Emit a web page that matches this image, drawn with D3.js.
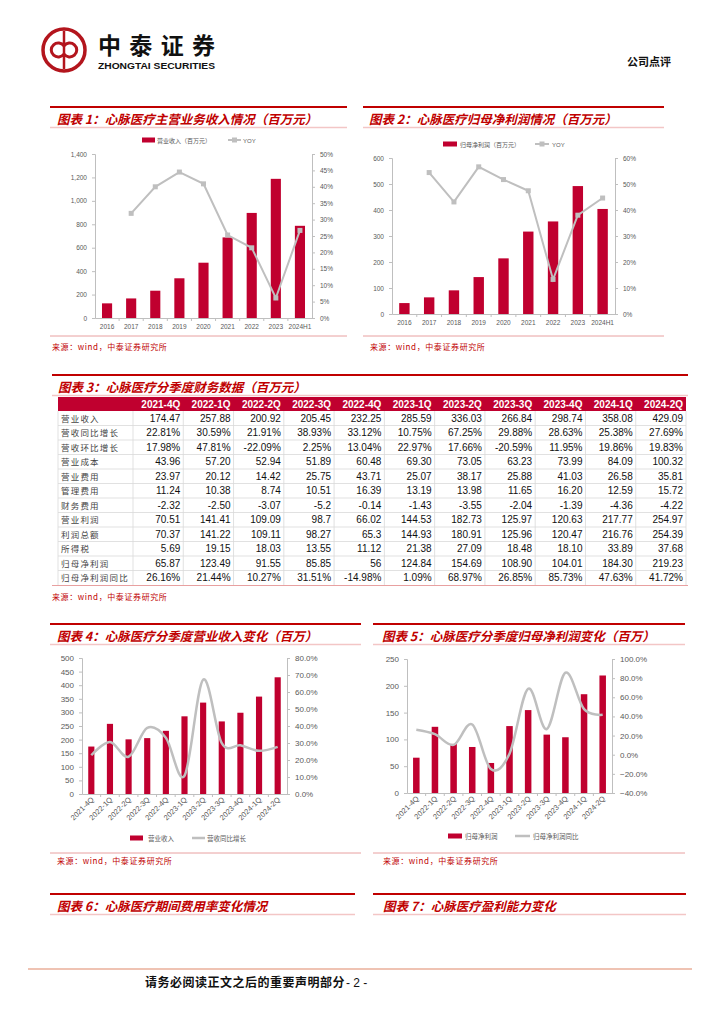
<!DOCTYPE html>
<html><head><meta charset="utf-8">
<script src="https://cdn.jsdelivr.net/npm/d3@7"></script>
<style>body{margin:0;background:#fff}svg{display:block}</style>
</head><body><svg id="c" width="724" height="1024"></svg>
<script>
// ---------- DATA ----------
const years = ['2016','2017','2018','2019','2020','2021','2022','2023','2024H1'];
const revenueAnnual = [125,167,233,339,472,688,897,1188,787];
const revenueYoy = [null,31.9,40.0,44.5,40.9,25.3,21.4,6.1,26.7];
const profitAnnual = [42,64,91,142,214,317,356,492,404];
const profitYoy = [null,54.4,43.1,56.6,51.7,47.4,13.3,38.0,44.6];

const quarters = ['2021-4Q','2022-1Q','2022-2Q','2022-3Q','2022-4Q','2023-1Q','2023-2Q','2023-3Q','2023-4Q','2024-1Q','2024-2Q'];
const rowLabels = ['营业收入','营收同比增长','营收环比增长','营业成本','营业费用','管理费用','财务费用','营业利润','利润总额','所得税','归母净利润','归母净利润同比'];
const rowRevenue = ['174.47','257.88','200.92','205.45','232.25','285.59','336.03','266.84','298.74','358.08','429.09'];
const rowRevenueYoy = ['22.81%','30.59%','21.91%','38.93%','33.12%','10.75%','67.25%','29.88%','28.63%','25.38%','27.69%'];
const rowRevenueQoq = ['17.98%','47.81%','-22.09%','2.25%','13.04%','22.97%','17.66%','-20.59%','11.95%','19.86%','19.83%'];
const rowCost = ['43.96','57.20','52.94','51.89','60.48','69.30','73.05','63.23','73.99','84.09','100.32'];
const rowSelling = ['23.97','20.12','14.42','25.75','43.71','25.07','38.17','25.88','41.03','26.58','35.81'];
const rowAdmin = ['11.24','10.38','8.74','10.51','16.39','13.19','13.98','11.65','16.20','12.59','15.72'];
const rowFinance = ['-2.32','-2.50','-3.07','-5.2','-0.14','-1.43','-3.55','-2.04','-1.39','-4.36','-4.22'];
const rowOpProfit = ['70.51','141.41','109.09','98.7','66.02','144.53','182.73','125.97','120.63','217.77','254.97'];
const rowTotalProfit = ['70.37','141.22','109.11','98.27','65.3','144.93','180.91','125.96','120.47','216.76','254.39'];
const rowTax = ['5.69','19.15','18.03','13.55','11.12','21.38','27.09','18.48','18.10','33.89','37.68'];
const rowNetProfit = ['65.87','123.49','91.55','85.85','56','124.84','154.69','108.90','104.01','184.30','219.23'];
const rowNetProfitYoy = ['26.16%','21.44%','10.27%','31.51%','-14.98%','1.09%','68.97%','26.85%','85.73%','47.63%','41.72%'];
const tableRows = [rowRevenue,rowRevenueYoy,rowRevenueQoq,rowCost,rowSelling,rowAdmin,rowFinance,rowOpProfit,rowTotalProfit,rowTax,rowNetProfit,rowNetProfitYoy];

const quarterRevenue = rowRevenue.map(parseFloat);
const quarterRevenueYoy = rowRevenueYoy.map(parseFloat);
const quarterProfit = rowNetProfit.map(parseFloat);
const quarterProfitYoy = rowNetProfitYoy.map(parseFloat);

const ticks1L = [0,200,400,600,800,1000,1200,1400];
const ticks1R = [0,5,10,15,20,25,30,35,40,45,50];
const ticks2L = [0,100,200,300,400,500,600];
const ticks2R = [0,10,20,30,40,50,60];
const ticks4L = [0,50,100,150,200,250,300,350,400,450,500];
const ticks4R = [0,10,20,30,40,50,60,70,80];
const ticks5L = [0,50,100,150,200,250];
const ticks5R = [-40,-20,0,20,40,60,80,100];

// ---------- STYLE ----------
const svg = d3.select('#c');
const RED = '#c00000', BAR = '#c0002f', GREY = '#bfbfbf', TXT = '#595959', AX = '#bfbfbf';
const SANS = '"Liberation Sans", Arial, sans-serif';
const CJK = '"Noto Sans CJK SC", sans-serif';
const SOURCE = '来源：wind，中泰证券研究所';

svg.append('rect').attr('width',724).attr('height',1024).attr('fill','#fff');

// ---------- HEADER ----------
const logo = svg.append('g').attr('fill','none').attr('stroke','#b3151d');
logo.append('circle').attr('cx',64).attr('cy',50).attr('r',21).attr('stroke-width',3.5);
logo.append('line').attr('x1',64).attr('x2',64).attr('y1',31).attr('y2',69).attr('stroke-width',2.5);
logo.append('path').attr('d','M64,46 A7,7 0 1 0 64,54').attr('stroke-width',3);
logo.append('path').attr('d','M64,46 A7,7 0 1 1 64,54').attr('stroke-width',3);
svg.append('text').attr('x',98).attr('y',54).text('中泰证券').attr('font-family',CJK).attr('font-weight','bold')
  .attr('font-size',23).attr('textLength',117).attr('lengthAdjust','spacing').attr('fill','#111');
svg.append('text').attr('x',98).attr('y',69).text('ZHONGTAI SECURITIES').attr('font-family',SANS).attr('font-weight','bold')
  .attr('font-size',8.5).attr('textLength',117).attr('lengthAdjust','spacingAndGlyphs').attr('fill','#111');
svg.append('text').attr('x',627).attr('y',66).text('公司点评').attr('font-family',CJK).attr('font-weight','bold')
  .attr('font-size',11).attr('fill','#111');

// ---------- HELPERS ----------
function sectionTitle(x1,x2,y,txt,tx){
  svg.append('line').attr('x1',x1).attr('x2',x2).attr('y1',y).attr('y2',y).attr('stroke',RED).attr('stroke-width',2);
  svg.append('text').attr('x',tx).attr('y',y+16.5).text(txt).attr('fill',RED).attr('font-family',CJK)
    .attr('font-weight','bold').attr('font-style','italic').attr('font-size',12.5);
  svg.append('line').attr('x1',x1).attr('x2',x2).attr('y1',y+20.5).attr('y2',y+20.5).attr('stroke','#f3c6c6').attr('stroke-width',1.5);
}
function sourceNote(x1,x2,ly,tx,ty){
  if (ly!=null) svg.append('line').attr('x1',x1).attr('x2',x2).attr('y1',ly).attr('y2',ly).attr('stroke','#e8a0a0').attr('stroke-width',1);
  svg.append('text').attr('x',tx).attr('y',ty).text(SOURCE).attr('fill',RED).attr('font-family',CJK)
    .attr('font-size',8).attr('letter-spacing',0.6);
}
function styleAxis(g,fs){
  g.select('.domain').attr('stroke',AX);
  g.selectAll('.tick line').attr('stroke',AX);
  g.selectAll('.tick text').attr('fill',TXT).attr('font-family',SANS).attr('font-size',fs);
}

function combo(o){
  const g = svg.append('g');
  const xb = d3.scaleBand().domain(o.cats).range([o.x0,o.x1]).padding(0);
  const bw = xb.bandwidth();
  const yL = d3.scaleLinear().domain(o.leftDomain).range([o.y1,o.y0]);
  const yR = d3.scaleLinear().domain(o.rightDomain).range([o.y1,o.y0]);
  g.append('g').selectAll('rect').data(o.cats.map((c,i)=>({c,v:o.bars[i]}))).join('rect')
    .attr('x',d=>xb(d.c)+bw*(1-o.barFrac)/2).attr('width',bw*o.barFrac)
    .attr('y',d=>yL(d.v)).attr('height',d=>yL(0)-yL(d.v)).attr('fill',BAR);
  const gl = g.append('g').attr('transform',`translate(${o.x0},0)`)
    .call(d3.axisLeft(yL).tickValues(o.leftTicks).tickFormat(o.leftFmt).tickSizeOuter(0).tickSize(3).tickPadding(o.pad));
  styleAxis(gl,o.fs);
  const gr = g.append('g').attr('transform',`translate(${o.x1},0)`)
    .call(d3.axisRight(yR).tickValues(o.rightTicks).tickFormat(o.rightFmt).tickSizeOuter(0).tickSize(3).tickPadding(o.pad));
  styleAxis(gr,o.fs);
  const gx = g.append('g').attr('transform',`translate(0,${yL(0)})`)
    .call(d3.axisBottom(xb).tickSize(0).tickFormat(''));
  gx.select('.domain').attr('stroke',AX);
  gx.selectAll('.bnd').data(o.cats.slice(1)).join('line').attr('class','bnd')
    .attr('x1',d=>xb(d)).attr('x2',d=>xb(d)).attr('y1',0).attr('y2',3).attr('stroke',AX);
  const lab = g.append('g').selectAll('text').data(o.cats).join('text').text(d=>d)
    .attr('fill',TXT).attr('font-family',SANS).attr('font-size',o.xfs);
  if (o.rotate){
    lab.attr('text-anchor','end').attr('transform',d=>`translate(${xb(d)+bw/2+3},${o.y1+6}) rotate(-45)`);
  } else {
    lab.attr('text-anchor','middle').attr('x',d=>xb(d)+bw/2).attr('y',o.y1+11);
  }
  const pts = o.cats.map((c,i)=>({c,v:o.line[i]})).filter(d=>d.v!=null);
  g.append('path').datum(pts).attr('fill','none').attr('stroke',GREY).attr('stroke-width',o.lw)
    .attr('d',d3.line().x(d=>xb(d.c)+bw/2).y(d=>yR(d.v)).curve(o.curve));
  if (o.markers){
    g.append('g').selectAll('rect').data(pts).join('rect')
      .attr('x',d=>xb(d.c)+bw/2-2.5).attr('y',d=>yR(d.v)-2.5).attr('width',5).attr('height',5).attr('fill',GREY);
  }
  const L = o.legend;
  g.append('rect').attr('x',L.bx).attr('y',L.y-2.5).attr('width',L.bw).attr('height',5).attr('fill',BAR);
  g.append('text').attr('x',L.btx).attr('y',L.y+2.5).text(L.btxt).attr('fill',TXT).attr('font-family',CJK).attr('font-size',L.fs);
  g.append('line').attr('x1',L.lx).attr('x2',L.lx+L.lw).attr('y1',L.y).attr('y2',L.y).attr('stroke',GREY).attr('stroke-width',o.lw);
  if (o.markers) g.append('rect').attr('x',L.lx+L.lw/2-2.5).attr('y',L.y-2.5).attr('width',5).attr('height',5).attr('fill',GREY);
  g.append('text').attr('x',L.ltx).attr('y',L.y+2.5).text(L.ltxt).attr('fill',TXT).attr('font-family',L.lfont||CJK).attr('font-size',L.fs);
}

// ---------- CHART 1 ----------
sectionTitle(50,347,107,'图表 1：心脉医疗主营业务收入情况（百万元）',57);
combo({x0:95,x1:312,y0:154,y1:318,cats:years,bars:revenueAnnual,line:revenueYoy,
  leftDomain:[0,1400],leftTicks:ticks1L,leftFmt:d3.format(','),
  rightDomain:[0,50],rightTicks:ticks1R,rightFmt:d=>d+'%',
  barFrac:0.42,fs:6.5,xfs:6.5,pad:5,rotate:false,curve:d3.curveLinear,markers:true,lw:2,
  legend:{y:140,bx:142,bw:13,btx:157,btxt:'营业收入（百万元）',lx:228,lw:13,ltx:243,ltxt:'YOY',lfont:SANS,fs:6}});
sourceNote(50,347,336,52,350);

// ---------- CHART 2 ----------
sectionTitle(363,664,107,'图表 2：心脉医疗归母净利润情况（百万元）',369);
combo({x0:392,x1:615,y0:158,y1:314,cats:years,bars:profitAnnual,line:profitYoy,
  leftDomain:[0,600],leftTicks:ticks2L,leftFmt:d3.format(','),
  rightDomain:[0,60],rightTicks:ticks2R,rightFmt:d=>d+'%',
  barFrac:0.42,fs:6.5,xfs:6.5,pad:5,rotate:false,curve:d3.curveLinear,markers:true,lw:2,
  legend:{y:144,bx:443,bw:14,btx:460,btxt:'归母净利润（百万元）',lx:535,lw:14,ltx:552,ltxt:'YOY',lfont:SANS,fs:6}});
sourceNote(363,664,336,370,350);

// ---------- TABLE 3 ----------
sectionTitle(52,688,375,'图表 3：心脉医疗分季度财务数据（百万元）',58);
(function(){
  const tx0 = 58, tx1 = 686, labW = 75, hy0 = 397, hy1 = 411, rh = 14.5;
  const xc = d3.scaleBand().domain(quarters).range([tx0+labW, tx1]).padding(0);
  const yr = d3.scaleBand().domain(rowLabels).range([hy1, hy1+rh*rowLabels.length]).padding(0);
  const g = svg.append('g');
  g.append('rect').attr('x',tx0).attr('y',hy0).attr('width',tx1-tx0).attr('height',hy1-hy0).attr('fill',BAR);
  g.selectAll('.hd').data(quarters).join('text').attr('class','hd')
    .attr('x',d=>xc(d)+xc.bandwidth()-3).attr('y',hy0+10.5).attr('text-anchor','end').text(d=>d)
    .attr('fill','#fff').attr('font-weight','bold').attr('font-family',SANS).attr('font-size',10);
  const yb = rowLabels.map(r=>yr(r)).concat([hy1+rh*rowLabels.length]);
  g.selectAll('.hl').data(yb.slice(1,-1)).join('line').attr('class','hl')
    .attr('x1',tx0).attr('x2',tx1).attr('y1',d=>d).attr('y2',d=>d).attr('stroke','#d9d9d9').attr('stroke-width',0.8);
  const xbnd = [tx0, tx0+labW].concat(quarters.slice(1).map(q=>xc(q))).concat([tx1]);
  g.selectAll('.vl').data(xbnd).join('line').attr('class','vl')
    .attr('x1',d=>d).attr('x2',d=>d).attr('y1',hy1).attr('y2',yb[yb.length-1]).attr('stroke','#d9d9d9').attr('stroke-width',0.8);
  g.append('line').attr('x1',tx0-6).attr('x2',tx1+2).attr('y1',yb[yb.length-1]+0.5).attr('y2',yb[yb.length-1]+0.5)
    .attr('stroke','#e8a0a0').attr('stroke-width',1);
  g.selectAll('.rl').data(rowLabels).join('text').attr('class','rl')
    .attr('x',tx0+3).attr('y',d=>yr(d)+rh/2+3.5).text(d=>d)
    .attr('fill','#444').attr('font-family',CJK).attr('font-size',8.5).attr('letter-spacing',1.2);
  tableRows.forEach((row,ri)=>{
    g.append('g').selectAll('text').data(row).join('text')
      .attr('x',(d,i)=>xc(quarters[i])+xc.bandwidth()-3).attr('y',yr(rowLabels[ri])+rh/2+3.5)
      .attr('text-anchor','end').text(d=>d).attr('fill','#111').attr('font-family',SANS).attr('font-size',10);
  });
})();
sourceNote(52,688,null,52,600);

// ---------- CHART 4 ----------
sectionTitle(50,361,624,'图表 4：心脉医疗分季度营业收入变化（百万）',57);
combo({x0:82,x1:287,y0:658,y1:794,cats:quarters,bars:quarterRevenue,line:quarterRevenueYoy,
  leftDomain:[0,500],leftTicks:ticks4L,leftFmt:d=>d,
  rightDomain:[0,80],rightTicks:ticks4R,rightFmt:d=>d3.format('.1f')(d)+'%',
  barFrac:0.33,fs:8,xfs:7.5,pad:5,rotate:true,curve:d3.curveCardinal.tension(0),markers:false,lw:2.5,
  legend:{y:838,bx:130,bw:13,btx:148,btxt:'营业收入',lx:192,lw:13,ltx:207,ltxt:'营收同比增长',fs:6.5}});
sourceNote(50,361,853,57,864);

// ---------- CHART 5 ----------
sectionTitle(373,685,624,'图表 5：心脉医疗分季度归母净利润变化（百万）',382);
combo({x0:407,x1:612,y0:659,y1:793,cats:quarters,bars:quarterProfit,line:quarterProfitYoy,
  leftDomain:[0,250],leftTicks:ticks5L,leftFmt:d=>d,
  rightDomain:[-40,100],rightTicks:ticks5R,rightFmt:d=>d3.format('.1f')(d)+'%',
  barFrac:0.35,fs:8,xfs:7.5,pad:5,rotate:true,curve:d3.curveCardinal.tension(0),markers:false,lw:2.5,
  legend:{y:836,bx:448,bw:14,btx:465,btxt:'归母净利润',lx:515,lw:15,ltx:533,ltxt:'归母净利润同比',fs:6.5}});
sourceNote(373,685,853,383,864);

// ---------- CHART 6 / 7 TITLES ----------
sectionTitle(50,355,894,'图表 6：心脉医疗期间费用率变化情况',57);
sectionTitle(373,686,894,'图表 7：心脉医疗盈利能力变化',383);

// ---------- FOOTER ----------
svg.append('line').attr('x1',28).attr('x2',692).attr('y1',969).attr('y2',969).attr('stroke','#efc3b3').attr('stroke-width',2);
svg.append('text').attr('x',145).attr('y',987).text('请务必阅读正文之后的重要声明部分').attr('font-family',CJK)
  .attr('font-weight','bold').attr('font-size',12).attr('letter-spacing',0.5).attr('fill','#111');
svg.append('text').attr('x',346).attr('y',987).text('- 2 -').attr('font-family',SANS).attr('font-size',12).attr('fill','#111');
</script>
</body></html>
